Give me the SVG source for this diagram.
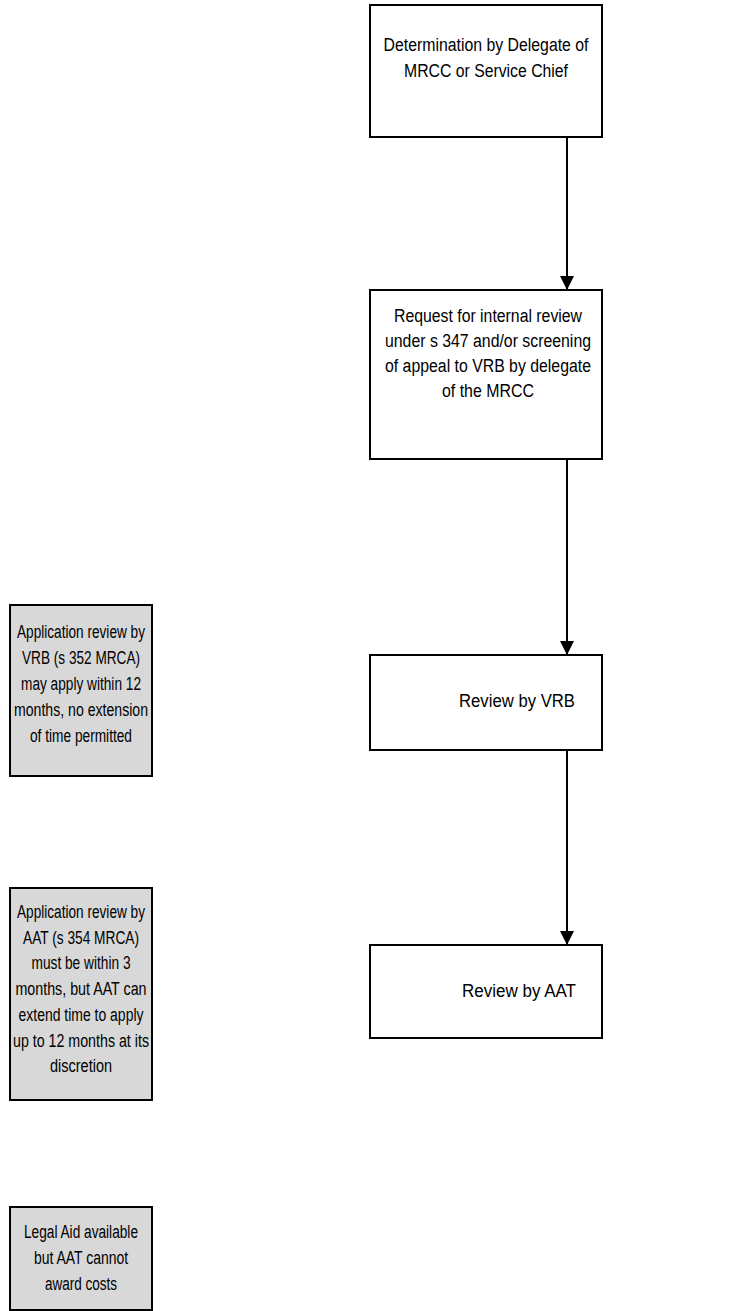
<svg xmlns="http://www.w3.org/2000/svg" width="755" height="1311" viewBox="0 0 755 1311">
<style>
.box{fill:#ffffff;stroke:#000000;stroke-width:2}
.side{fill:#d8d8d8;stroke:#000000;stroke-width:2}
.t{font-family:"Liberation Sans",Arial,sans-serif;font-size:18px;fill:#000000;text-anchor:middle}
.conn{stroke:#000000;stroke-width:2;fill:none}
</style>
<defs>
<marker id="ah" markerWidth="14" markerHeight="14" refX="14" refY="7" orient="auto" markerUnits="userSpaceOnUse">
<path d="M0,0 L14,7 L0,14 Z" fill="#000000"/>
</marker>
</defs>
<rect width="755" height="1311" fill="#ffffff"/>
<g id="connectors">
<line class="conn" x1="567" y1="137" x2="567" y2="290" marker-end="url(#ah)"/>
<line class="conn" x1="567" y1="459" x2="567" y2="655" marker-end="url(#ah)"/>
<line class="conn" x1="567" y1="750" x2="567" y2="945" marker-end="url(#ah)"/>
</g>
<g id="determination">
<rect class="box" x="370" y="5" width="232" height="132"/>
<text class="t" x="486" y="51" textLength="205" lengthAdjust="spacingAndGlyphs">Determination by Delegate of</text>
<text class="t" x="486" y="77" textLength="164" lengthAdjust="spacingAndGlyphs">MRCC or Service Chief</text>
</g>
<g id="request">
<rect class="box" x="370" y="290" width="232" height="169"/>
<text class="t" x="488" y="322" textLength="188" lengthAdjust="spacingAndGlyphs">Request for internal review</text>
<text class="t" x="488" y="347" textLength="206" lengthAdjust="spacingAndGlyphs">under s 347 and/or screening</text>
<text class="t" x="488" y="372" textLength="206" lengthAdjust="spacingAndGlyphs">of appeal to VRB by delegate</text>
<text class="t" x="488" y="397" textLength="92" lengthAdjust="spacingAndGlyphs">of the MRCC</text>
</g>
<g id="review-vrb">
<rect class="box" x="370" y="655" width="232" height="95"/>
<text class="t" x="517" y="707" textLength="116" lengthAdjust="spacingAndGlyphs">Review by VRB</text>
</g>
<g id="review-aat">
<rect class="box" x="370" y="945" width="232" height="93"/>
<text class="t" x="519" y="997" textLength="114" lengthAdjust="spacingAndGlyphs">Review by AAT</text>
</g>
<g id="note-vrb">
<rect class="side" x="10" y="605" width="142" height="171"/>
<text class="t" x="81" y="638" textLength="128" lengthAdjust="spacingAndGlyphs">Application review by</text>
<text class="t" x="81" y="664" textLength="118" lengthAdjust="spacingAndGlyphs">VRB (s 352 MRCA)</text>
<text class="t" x="81" y="690" textLength="120" lengthAdjust="spacingAndGlyphs">may apply within 12</text>
<text class="t" x="81" y="716" textLength="134" lengthAdjust="spacingAndGlyphs">months, no extension</text>
<text class="t" x="81" y="742" textLength="102" lengthAdjust="spacingAndGlyphs">of time permitted</text>
</g>
<g id="note-aat">
<rect class="side" x="10" y="888" width="142" height="212"/>
<text class="t" x="81" y="918" textLength="128" lengthAdjust="spacingAndGlyphs">Application review by</text>
<text class="t" x="81" y="944" textLength="116" lengthAdjust="spacingAndGlyphs">AAT (s 354 MRCA)</text>
<text class="t" x="81" y="969" textLength="99" lengthAdjust="spacingAndGlyphs">must be within 3</text>
<text class="t" x="81" y="995" textLength="131" lengthAdjust="spacingAndGlyphs">months, but AAT can</text>
<text class="t" x="81" y="1021" textLength="125" lengthAdjust="spacingAndGlyphs">extend time to apply</text>
<text class="t" x="81" y="1047" textLength="136" lengthAdjust="spacingAndGlyphs">up to 12 months at its</text>
<text class="t" x="81" y="1072" textLength="62" lengthAdjust="spacingAndGlyphs">discretion</text>
</g>
<g id="note-legal">
<rect class="side" x="10" y="1207" width="142" height="103"/>
<text class="t" x="81" y="1238" textLength="114" lengthAdjust="spacingAndGlyphs">Legal Aid available</text>
<text class="t" x="81" y="1264" textLength="94" lengthAdjust="spacingAndGlyphs">but AAT cannot</text>
<text class="t" x="81" y="1290" textLength="72" lengthAdjust="spacingAndGlyphs">award costs</text>
</g>
</svg>
